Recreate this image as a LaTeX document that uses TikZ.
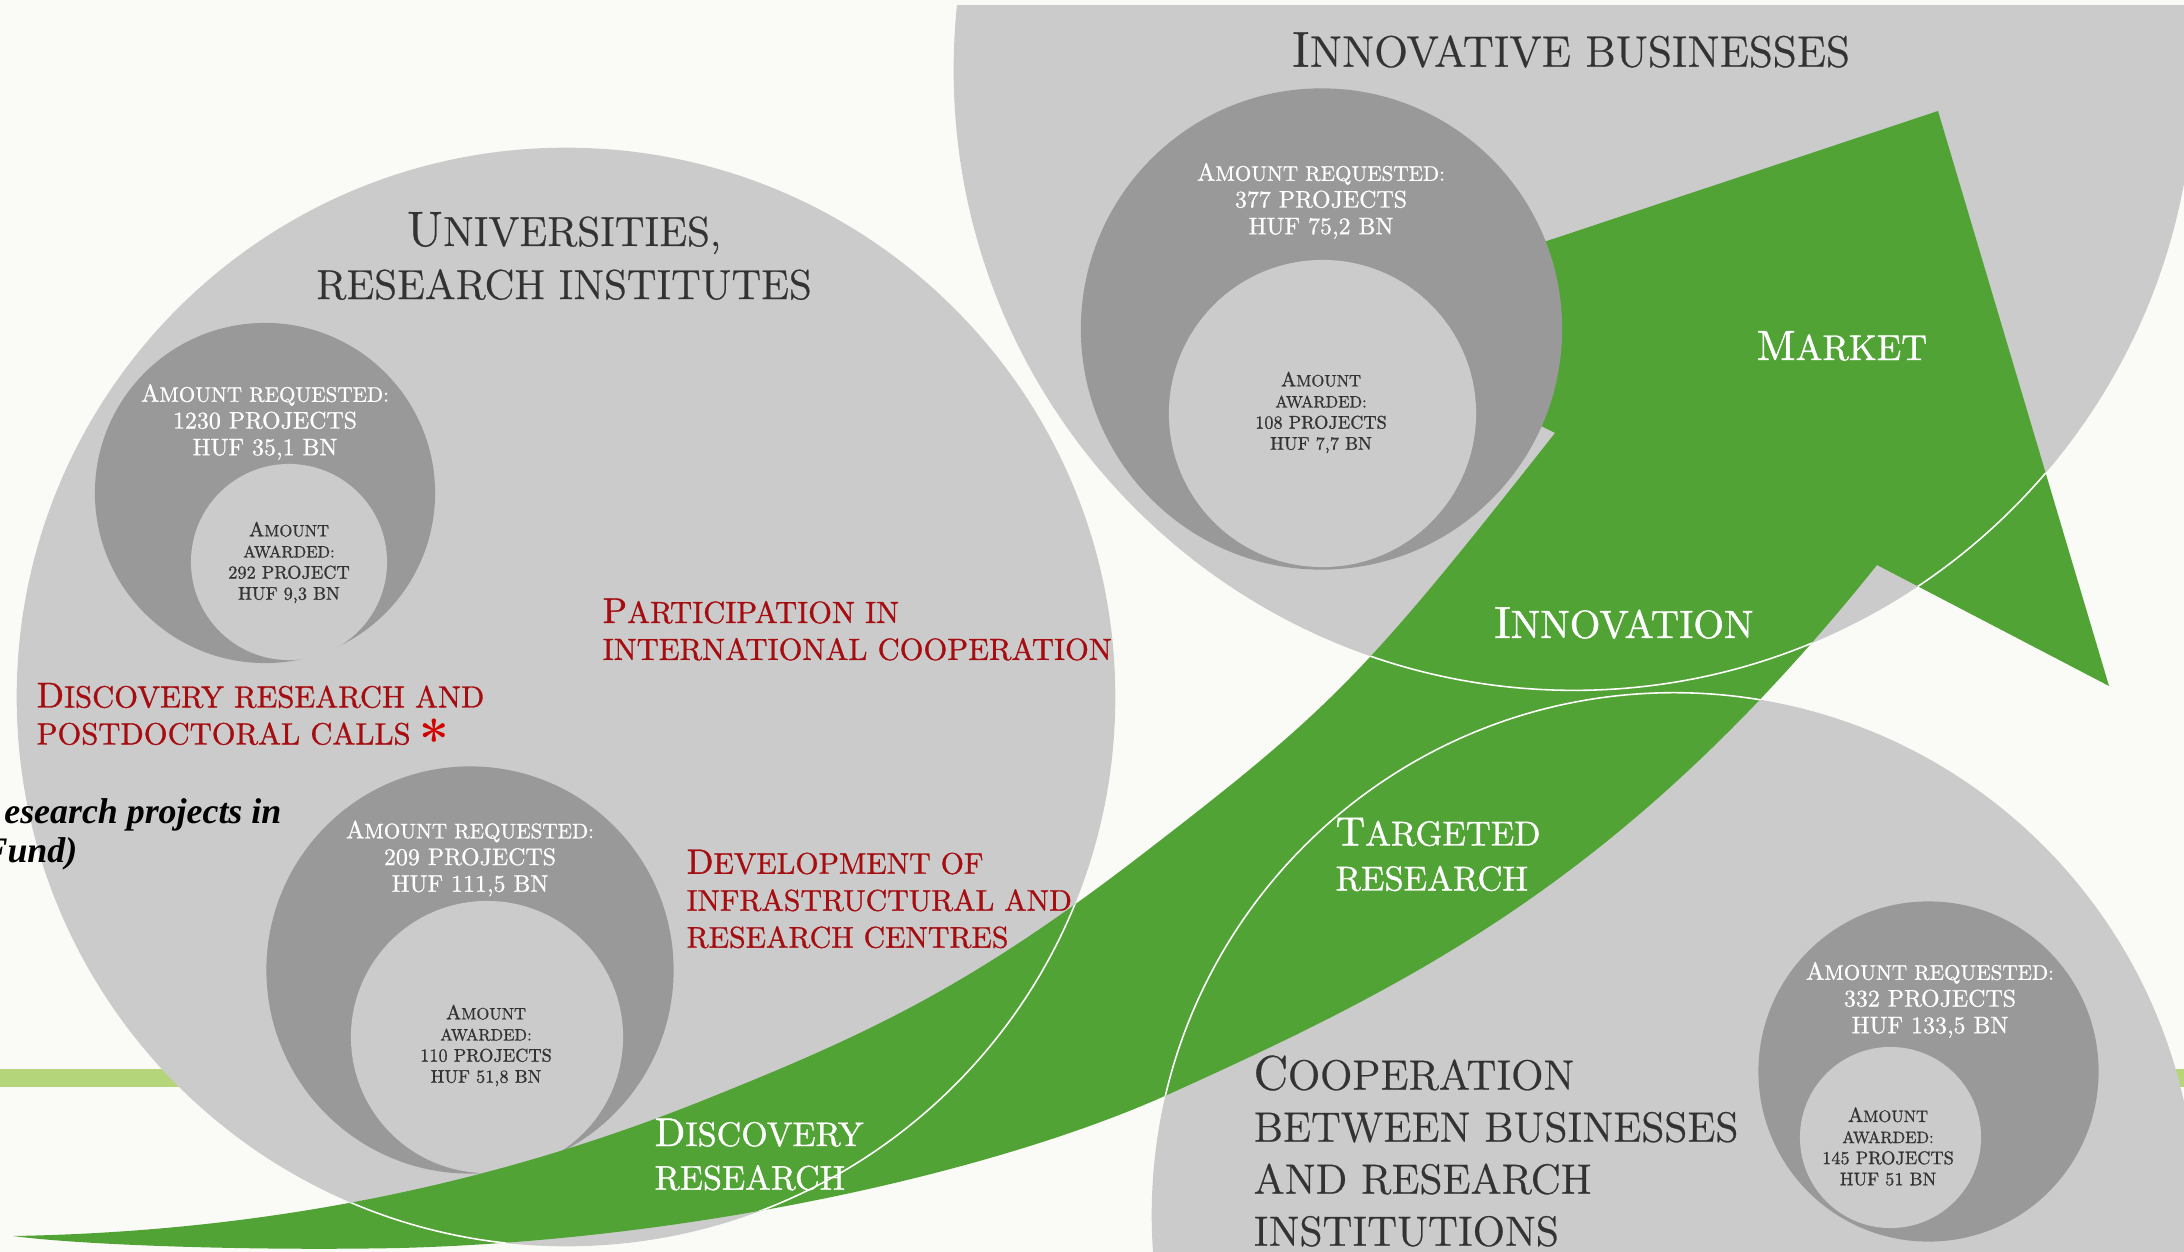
\documentclass[tikz,border=0pt]{standalone}
\usepackage{fontspec}
\newfontfamily\bifont{Liberation Serif}
\newfontfamily\lmten{lmroman10-regular.otf}[FakeBold=1.0]
\newfontfamily\lmtwelve{lmroman12-regular.otf}[FakeBold=0.6]
\definecolor{bgwhite}{HTML}{FAFBF6}
\definecolor{lgray}{HTML}{CBCBCB}
\definecolor{dgray}{HTML}{999999}
\definecolor{agreen}{HTML}{52A336}
\definecolor{bargreen}{HTML}{B5D57B}
\definecolor{redtxt}{HTML}{A50D10}
\definecolor{startxt}{HTML}{D40000}
\definecolor{darktxt}{HTML}{333333}
\newcommand{\Ini}[2]{{\fontsize{#1}{#1}\selectfont #2}}
\newcommand{\Sma}[2]{{\fontsize{#1}{#1}\selectfont #2}}
\newcommand{\ArrowShape}{(13,1236) .. controls (250,1232) and (480,1190) .. (704,1100)
 .. controls (874,1032) and (974,984) .. (1144,853)
 .. controls (1334,706.7) and (1365,674) .. (1555,433)
 -- (1321,316) -- (1938,111) -- (2109,686) -- (1877,565)
 .. controls (1627,877) and (1417,982) .. (1167,1095)
 .. controls (1000,1170) and (700,1240) .. (400,1248)
 .. controls (250,1251) and (80,1245) .. (13,1236) -- cycle}
\begin{document}
\begin{tikzpicture}[x=0.01cm,y=-0.01cm,
  reqtxt/.style={text=white,align=center,inner sep=0pt,font=\lmten\fontsize{6.8}{7.6}\selectfont},
  awdtxt/.style={text=darktxt,align=center,inner sep=0pt,font=\lmten\fontsize{5.2}{6}\selectfont},
  redlbl/.style={text=redtxt,align=left,anchor=west,inner sep=0pt,font=\lmten\fontsize{8.7}{10.5}\selectfont},
  whtlbl/.style={text=white,align=left,anchor=west,inner sep=0pt,font=\lmten\fontsize{9.7}{12.4}\selectfont},
  ttl/.style={text=darktxt,inner sep=0pt,font=\lmtwelve\fontsize{11.9}{15.1}\selectfont},
  notetxt/.style={text=black,inner sep=0pt,anchor=base east,font=\bifont\bfseries\itshape\fontsize{10.2}{12}\selectfont},
  rim/.style={draw=white,line width=0.45pt}
]
\useasboundingbox (0,0) rectangle (2184,1252);
\clip (0,0) rectangle (2184,1252);
\fill[bgwhite] (0,0) rectangle (2184,1252);
\fill[bargreen] (0,1069) rectangle (2184,1087);
% big circles
\fill[lgray] (566,697) circle[radius=5.49cm];
\begin{scope}
  \clip (0,6) rectangle (2184,1252);
  \fill[lgray] (1574,70) circle[radius=6.2cm];
\end{scope}
\fill[lgray] (1674,1215) circle[radius=5.22cm];
% crescents left
\fill[dgray] (265,493) circle[radius=1.70cm];
\fill[lgray] (289,562) circle[radius=0.98cm];
\fill[dgray] (470,970) circle[radius=2.035cm];
\fill[lgray] (487,1037) circle[radius=1.36cm];
% arrow
\fill[agreen] \ArrowShape;
% crescents right
\fill[dgray] (1321.5,329) circle[radius=2.405cm];
\fill[lgray] (1322.5,413.5) circle[radius=1.535cm];
\fill[dgray] (1928.5,1071.5) circle[radius=1.70cm];
\fill[lgray] (1890.5,1137.5) circle[radius=0.905cm];
% rims over the arrow
\begin{scope}
  \clip \ArrowShape;
  \draw[rim] (566,697) circle[radius=5.49cm];
  \draw[rim] (1574,70) circle[radius=6.2cm];
  \draw[rim] (1674,1215) circle[radius=5.22cm];
\end{scope}
% titles
\node[ttl,align=center] (univ) at (564,256) {\Ini{14.1}{U}NIVERSITIES,\\RESEARCH INSTITUTES};
\node[ttl,font=\lmtwelve\fontsize{12.5}{15}\selectfont] (innobus) at (1571,50) {\Ini{14.3}{I}NNOVATIVE BUSINESSES};
\node[ttl,anchor=west,align=left,font=\lmtwelve\fontsize{12}{14.8}\selectfont] (coop) at (1253,1151) {\Ini{13.8}{C}OOPERATION\\BETWEEN BUSINESSES\\AND RESEARCH\\INSTITUTIONS};
% requested / awarded
\node[reqtxt] (reqA) at (265,422) {\Ini{7}{A}\Sma{6}{MOUNT REQUESTED:}\\1230 PROJECTS\\HUF 35,1 BN};
\node[awdtxt] (awdA) at (289,562.5) {\Ini{5.8}{A}\Sma{4.7}{MOUNT}\\\Sma{4.7}{AWARDED:}\\292 PROJECT\\HUF 9,3 BN};
\node[reqtxt] (reqB) at (470,858.5) {\Ini{7}{A}\Sma{6}{MOUNT REQUESTED:}\\209 PROJECTS\\HUF 111,5 BN};
\node[awdtxt] (awdB) at (486,1045.5) {\Ini{5.8}{A}\Sma{4.7}{MOUNT}\\\Sma{4.7}{AWARDED:}\\110 PROJECTS\\HUF 51,8 BN};
\node[reqtxt] (reqC) at (1321,201) {\Ini{7}{A}\Sma{6}{MOUNT REQUESTED:}\\377 PROJECTS\\HUF 75,2 BN};
\node[awdtxt] (awdC) at (1321,412.5) {\Ini{5.8}{A}\Sma{4.7}{MOUNT}\\\Sma{4.7}{AWARDED:}\\108 PROJECTS\\HUF 7,7 BN};
\node[reqtxt] (reqD) at (1930,1000) {\Ini{7}{A}\Sma{6}{MOUNT REQUESTED:}\\332 PROJECTS\\HUF 133,5 BN};
\node[awdtxt] (awdD) at (1888,1146.5) {\Ini{5.8}{A}\Sma{4.7}{MOUNT}\\\Sma{4.7}{AWARDED:}\\145 PROJECTS\\HUF 51 BN};
% red labels
\node[redlbl] (partic) at (602,629.5) {\Ini{10.2}{P}ARTICIPATION IN\\INTERNATIONAL COOPERATION};
\node[redlbl] (discpost) at (36,714) {\Ini{10.2}{D}ISCOVERY RESEARCH AND\\POSTDOCTORAL CALLS};
\node[text=startxt,inner sep=0pt,font=\fontsize{15}{15}\selectfont\bfseries] (star) at (434,739) {*};
\node[redlbl,font=\lmten\fontsize{8.5}{10.5}\selectfont] (devel) at (686,899) {\Ini{10}{D}EVELOPMENT OF\\INFRASTRUCTURAL AND\\RESEARCH CENTRES};
% note text cut at the left edge
\node[notetxt] (note1) at (282,823) {esearch projects in};
\node[notetxt] (note2) at (78,862) {Fund)};
% white labels on the arrow
\node[whtlbl] (discres) at (654,1154.5) {\Ini{11.4}{D}ISCOVERY\\RESEARCH};
\node[whtlbl,font=\lmten\fontsize{9.8}{12.8}\selectfont] (targ) at (1335,854.5) {\Ini{11.6}{T}ARGETED\\RESEARCH};
\node[text=white,inner sep=0pt,font=\lmten\fontsize{11.2}{11.2}\selectfont] (innov) at (1624,623) {\Ini{12.8}{I}NNOVATION};
\node[text=white,inner sep=0pt,font=\lmten\fontsize{10.2}{10.2}\selectfont] (market) at (1842,346) {\Ini{12}{M}ARKET};
\end{tikzpicture}
\end{document}
